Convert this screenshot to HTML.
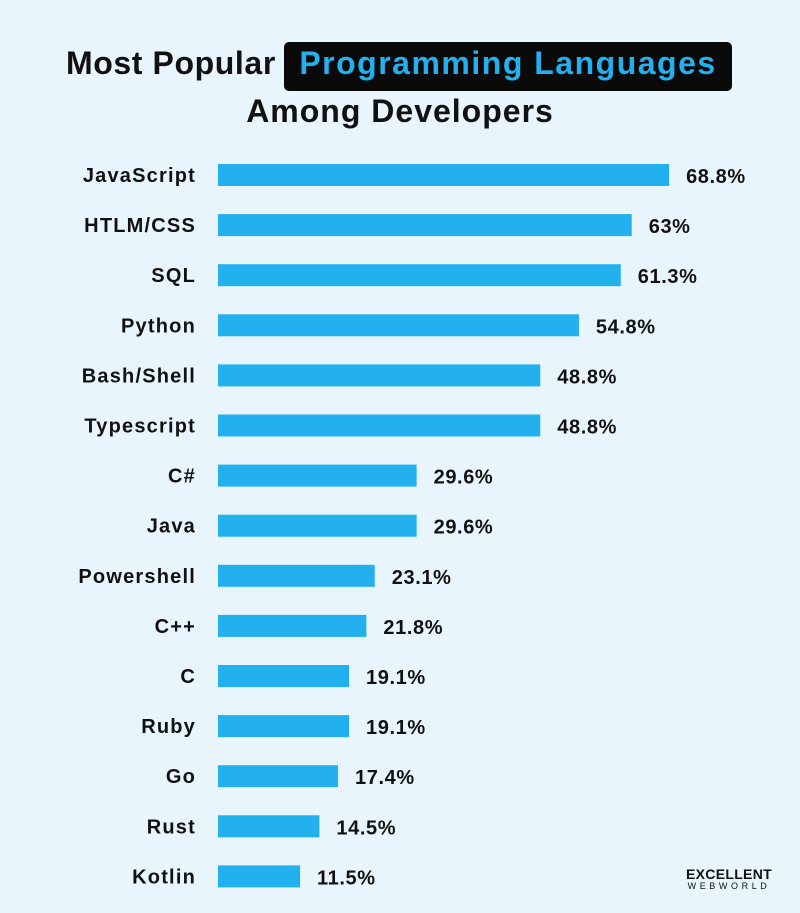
<!DOCTYPE html>
<html><head><meta charset="utf-8"><style>
body{margin:0;background:#e8f5fc;font-family:"Liberation Sans",sans-serif;}
#wrap{position:relative;width:800px;height:913px;overflow:hidden;background:#e8f5fc;}
.t{position:absolute;font-weight:bold;font-size:32px;color:#111;white-space:nowrap;}
</style></head><body>
<div id="wrap">
<div class="t" style="left:66px;top:45px;letter-spacing:0.6px;">Most Popular</div>
<div style="position:absolute;left:284px;top:42px;width:448px;height:49px;background:#0a0a0a;border-radius:5px;"></div>
<div class="t" style="left:284px;width:448px;text-align:center;top:45px;color:#22b0ee;letter-spacing:1.5px;">Programming Languages</div>
<div class="t" style="left:0;width:800px;text-align:center;top:93px;letter-spacing:1px;">Among Developers</div>
<svg id="svg" width="800" height="913" style="position:absolute;left:0;top:0"></svg>
<div style="position:absolute;left:684px;top:866px;width:90px;text-align:center;">
<div style="font-weight:bold;font-size:14px;color:#111;letter-spacing:0.3px;">EXCELLENT</div>
<div style="font-size:9px;color:#111;letter-spacing:3.6px;margin-top:-1px;">WEBWORLD</div>
</div>
</div>
<script>
const categories=["JavaScript","HTLM/CSS","SQL","Python","Bash/Shell","Typescript","C#","Java","Powershell","C++","C","Ruby","Go","Rust","Kotlin"];
const values=[68.8,63,61.3,54.8,48.8,48.8,29.6,29.6,23.1,21.8,19.1,19.1,17.4,14.5,11.5];
const labels=["68.8%","63%","61.3%","54.8%","48.8%","48.8%","29.6%","29.6%","23.1%","21.8%","19.1%","19.1%","17.4%","14.5%","11.5%"];
const NS="http://www.w3.org/2000/svg";
const svg=document.getElementById('svg');
const x0=218;
function xScale(v){return 8+v*6.44;}
function yScale(i){return 175+i*50.1;}
categories.forEach((c,i)=>{
  const y=yScale(i),w=xScale(values[i]);
  const r=document.createElementNS(NS,'rect');
  
  
  r.setAttribute('x',x0);r.setAttribute('y',y-11);r.setAttribute('width',w);r.setAttribute('height',22);r.setAttribute('fill','#22b0ee');
  svg.appendChild(r);
  const t=document.createElementNS(NS,'text');
  
  
  t.setAttribute('x',196);t.setAttribute('y',y+7);t.setAttribute('text-anchor','end');
  t.setAttribute('font-size','20');t.setAttribute('font-weight','bold');t.setAttribute('fill','#111');
  t.setAttribute('letter-spacing','1.2');
  t.setAttribute('font-family','Liberation Sans, sans-serif');
  t.textContent=c;svg.appendChild(t);
  const v=document.createElementNS(NS,'text');
  
  
  v.setAttribute('x',x0+w+17);v.setAttribute('y',y+8);
  v.setAttribute('font-size','20');v.setAttribute('font-weight','bold');v.setAttribute('fill','#111');
  v.setAttribute('letter-spacing','0.6');
  v.setAttribute('font-family','Liberation Sans, sans-serif');
  v.textContent=labels[i];svg.appendChild(v);
});
</script>
</body></html>
